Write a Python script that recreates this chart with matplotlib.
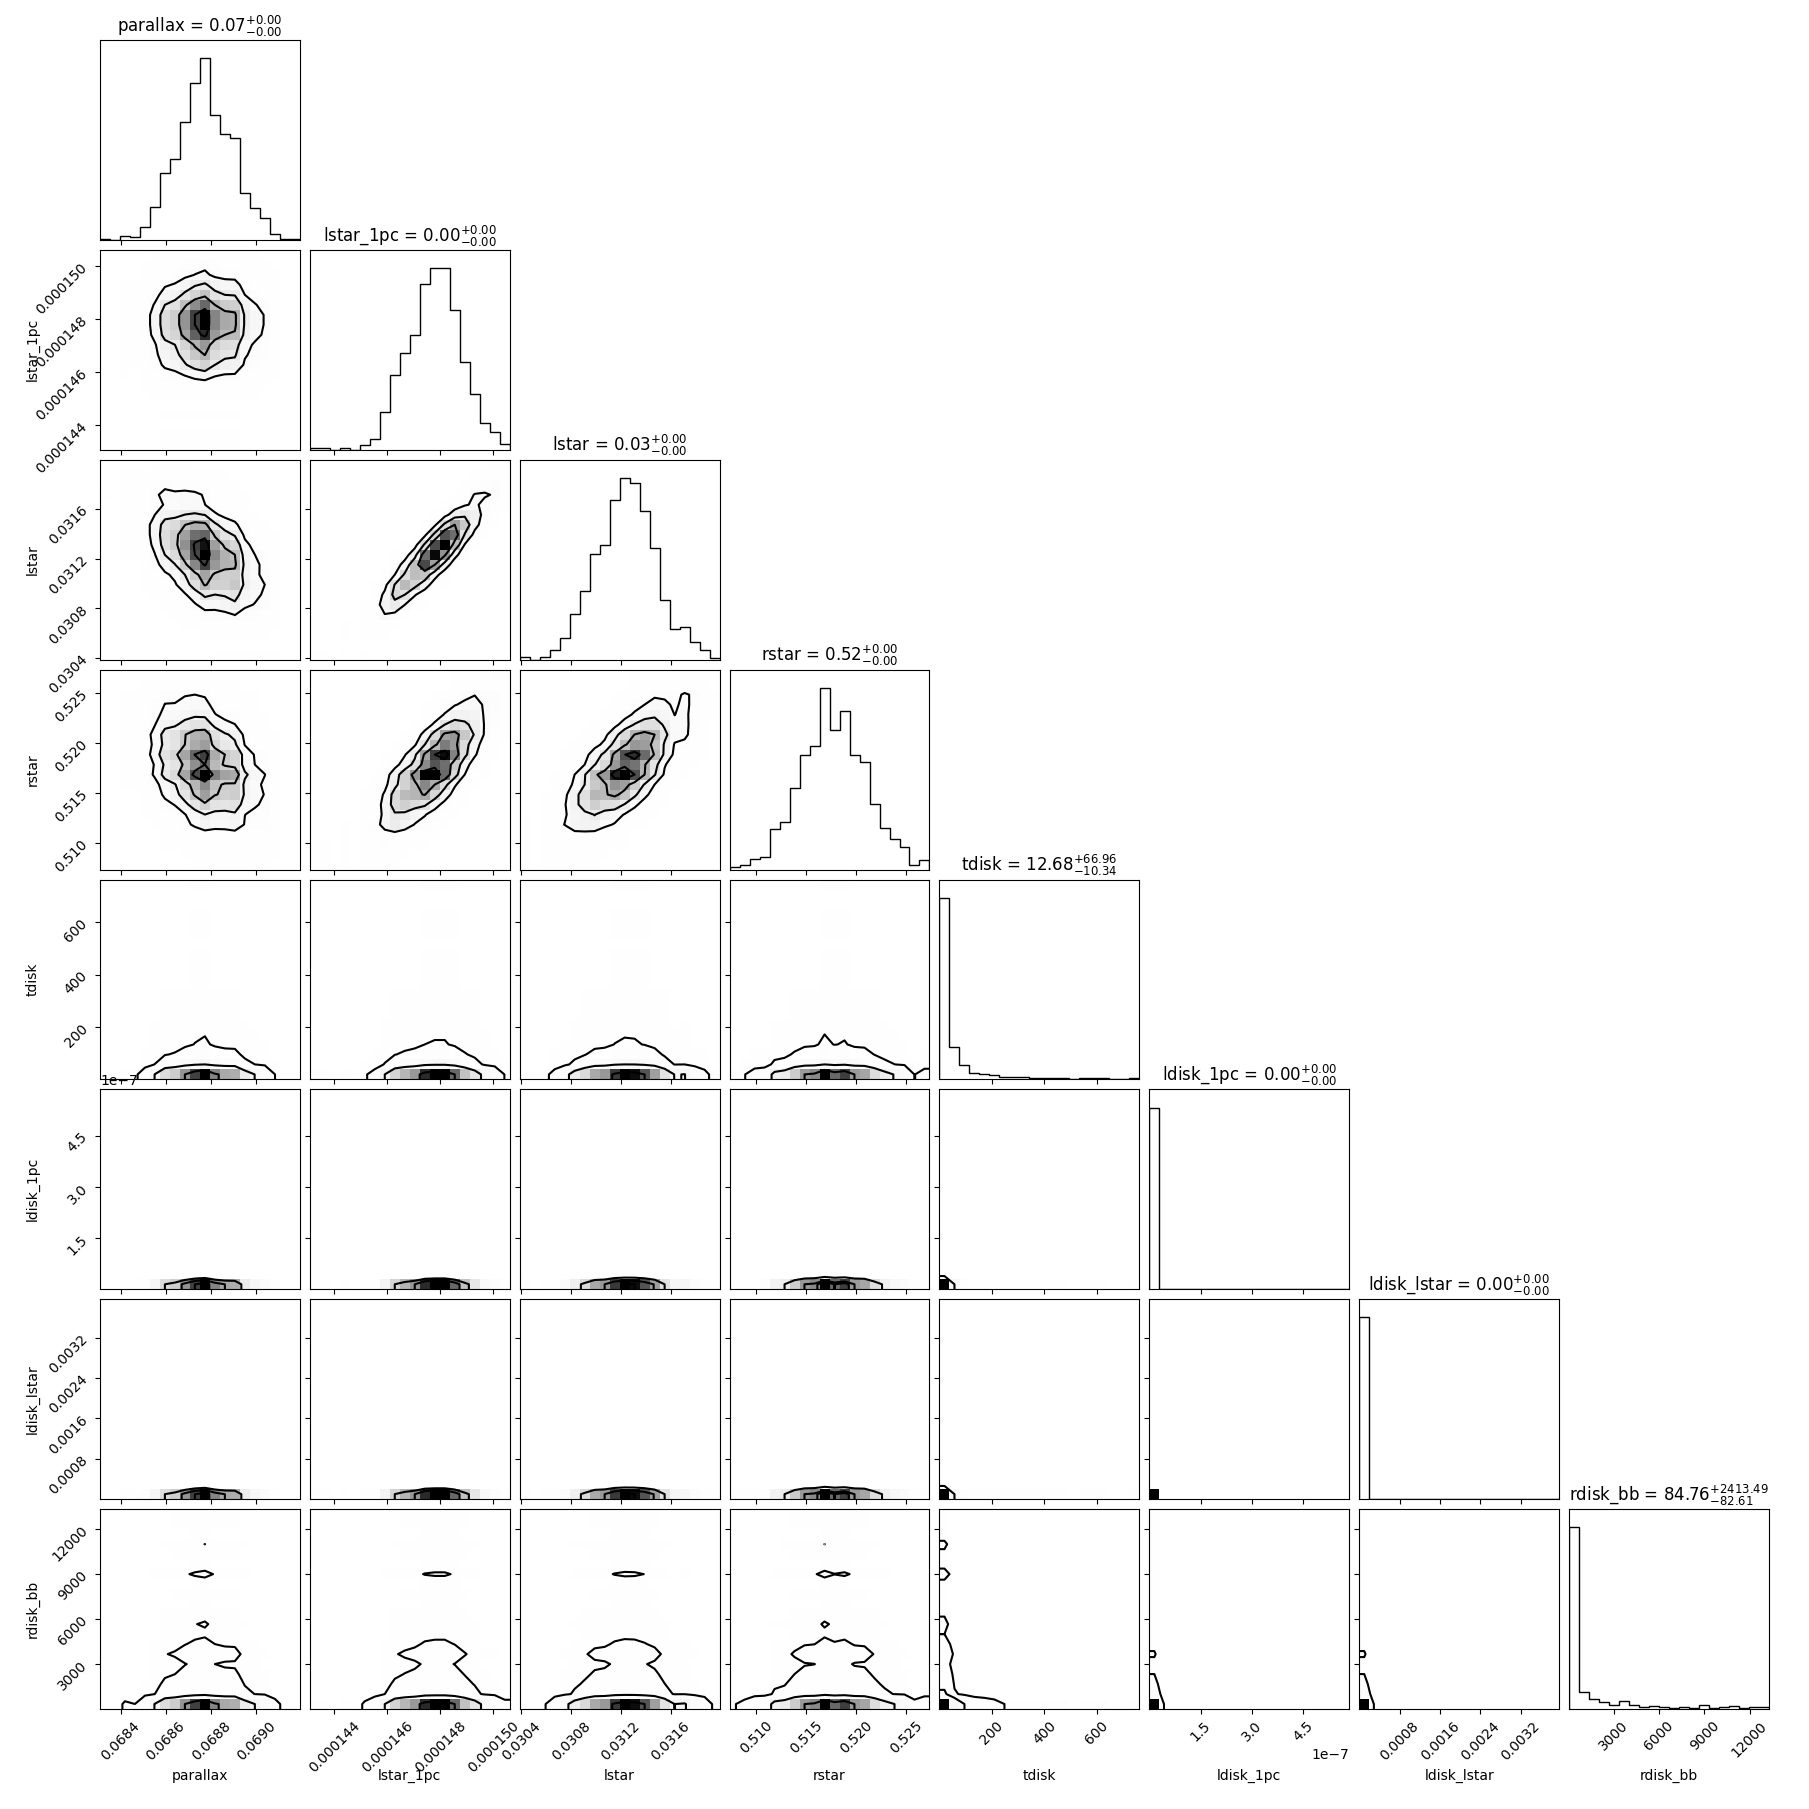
import numpy as np
import matplotlib
matplotlib.use('Agg')
import matplotlib.pyplot as plt
from matplotlib.colors import LinearSegmentedColormap
from matplotlib.ticker import MaxNLocator, NullLocator, ScalarFormatter

#-------------------------------------------------------------------------------
# Data
#-------------------------------------------------------------------------------
labels = ['parallax', 'lstar_1pc', 'lstar', 'rstar',
          'tdisk', 'ldisk_1pc', 'ldisk_lstar', 'rdisk_bb']

# title values: median and -/+ errors (as printed)
q50     = [0.07, 0.00, 0.03, 0.52, 12.68, 0.00, 0.00, 84.76]
q_minus = [0.00, 0.00, 0.00, 0.00, 10.34, 0.00, 0.00, 82.61]
q_plus  = [0.00, 0.00, 0.00, 0.00, 66.96, 0.00, 0.00, 2413.49]

# axis range (min, max) of every parameter
rng_parallax    = (0.068308, 0.069193)
rng_lstar_1pc   = (1.4307e-4, 1.5062e-4)
rng_lstar       = (0.030387, 0.031994)
rng_rstar       = (0.50734, 0.52734)
rng_tdisk       = (0.5, 762.0)
rng_ldisk_1pc   = (1e-10, 5.85e-7)
rng_ldisk_lstar = (1e-7, 0.00396)
rng_rdisk_bb    = (40.0, 13290.0)

# 20-bin marginal histograms (relative counts)
hist_parallax    = [2, 0, 12, 9, 38, 98, 200, 242, 353, 471, 545, 375, 317, 306, 142, 95, 65, 17, 2, 2]
hist_lstar_1pc   = [6, 6, 0, 6, 0, 14, 32, 113, 224, 291, 345, 497, 545, 545, 419, 264, 167, 81, 54, 17]
hist_lstar       = [8, 0, 8, 30, 66, 136, 207, 316, 345, 480, 545, 531, 447, 334, 180, 92, 98, 53, 28, 4]
hist_rstar       = [8, 15, 31, 37, 121, 144, 244, 343, 369, 545, 418, 474, 342, 321, 198, 126, 92, 69, 15, 30]
hist_tdisk       = [545, 96, 42, 20, 16, 12, 7, 7, 7, 3, 3, 3, 3, 0, 3, 3, 3, 1, 1, 3]
hist_ldisk_1pc   = [545, 0, 0, 0, 0, 0, 0, 0, 0, 1, 0, 0, 0, 0, 0, 0, 0, 0, 0, 1]
hist_ldisk_lstar = [545, 0, 0, 0, 0, 0, 0, 0, 0, 0, 0, 0, 0, 0, 0, 0, 1, 0, 0, 1]
hist_rdisk_bb    = [545, 50, 31, 20, 13, 23, 13, 7, 10, 6, 3, 5, 3, 12, 3, 5, 9, 3, 5, 5]

# pairwise correlations estimated from the 2-D panels (others ~0)
corr_pairs = {('parallax', 'lstar'):   -0.45,
              ('parallax', 'rstar'):   -0.30,
              ('lstar_1pc', 'lstar'):   0.90,
              ('lstar_1pc', 'rstar'):   0.75,
              ('lstar', 'rstar'):       0.70}

ranges = [rng_parallax, rng_lstar_1pc, rng_lstar, rng_rstar,
          rng_tdisk, rng_ldisk_1pc, rng_ldisk_lstar, rng_rdisk_bb]
hists  = [hist_parallax, hist_lstar_1pc, hist_lstar, hist_rstar,
          hist_tdisk, hist_ldisk_1pc, hist_ldisk_lstar, hist_rdisk_bb]

#-------------------------------------------------------------------------------
# Helpers
#-------------------------------------------------------------------------------
def bin_edges(r, n=20):
    return np.linspace(r[0], r[1], n + 1)

def joint_hist(cx, cy, rho):
    """2-D histogram built from two marginals and a correlation."""
    px = np.asarray(cx, float); py = np.asarray(cy, float)
    k = np.arange(len(px))
    def zscore(p):
        m = np.sum(k * p) / p.sum()
        s = np.sqrt(np.sum((k - m) ** 2 * p) / p.sum())
        return (k - m) / s
    H = np.outer(px, py)
    if rho != 0:
        zx, zy = np.meshgrid(zscore(px), zscore(py), indexing='ij')
        c = np.exp(-(rho**2 * (zx**2 + zy**2) - 2 * rho * zx * zy) / (2 * (1 - rho**2)))
        H = H * c
    return H / H.sum() * px.sum()

density_cmap = LinearSegmentedColormap.from_list('density_cmap', ['k', (1, 1, 1, 0)])
levels = 1.0 - np.exp(-0.5 * np.arange(0.5, 2.1, 0.5) ** 2)

def draw_hist2d(ax, H, X, Y):
    Hflat = np.sort(H.flatten())[::-1]
    sm = np.cumsum(Hflat); sm /= sm[-1]
    V = np.empty(len(levels))
    for i, v0 in enumerate(levels):
        sel = Hflat[sm <= v0]
        V[i] = sel[-1] if len(sel) else Hflat[0]
    V.sort()
    m = np.diff(V) == 0
    while np.any(m):
        V[np.where(m)[0][0]] *= 1.0 - 1e-4
        m = np.diff(V) == 0
    V.sort()

    X1, Y1 = 0.5 * (X[1:] + X[:-1]), 0.5 * (Y[1:] + Y[:-1])
    H2 = H.min() + np.zeros((H.shape[0] + 4, H.shape[1] + 4))
    H2[2:-2, 2:-2] = H
    H2[2:-2, 1] = H[:, 0]; H2[2:-2, -2] = H[:, -1]
    H2[1, 2:-2] = H[0];    H2[-2, 2:-2] = H[-1]
    H2[1, 1] = H[0, 0];    H2[1, -2] = H[0, -1]
    H2[-2, 1] = H[-1, 0];  H2[-2, -2] = H[-1, -1]
    X2 = np.concatenate([X1[0] + np.array([-2, -1]) * np.diff(X1[:2]), X1,
                         X1[-1] + np.array([1, 2]) * np.diff(X1[-2:])])
    Y2 = np.concatenate([Y1[0] + np.array([-2, -1]) * np.diff(Y1[:2]), Y1,
                         Y1[-1] + np.array([1, 2]) * np.diff(Y1[-2:])])

    ax.pcolormesh(X, Y, H.max() - H.T, cmap=density_cmap)
    ax.contour(X2, Y2, H2.T, V, colors='k')

#-------------------------------------------------------------------------------
# Figure layout (corner-style)
#-------------------------------------------------------------------------------
K       = len(labels)
factor  = 2.0
lbdim   = 0.5 * factor
trdim   = 0.2 * factor
whspace = 0.05
plotdim = factor * K + factor * (K - 1.0) * whspace
dim     = lbdim + plotdim + trdim

fig, axes = plt.subplots(K, K, figsize=(18.09, 18.09))
lb = lbdim / dim
tr = (lbdim + plotdim) / dim
fig.subplots_adjust(left=lb, bottom=lb, right=tr, top=tr, wspace=whspace, hspace=whspace)

for i in range(K):
    # ---- diagonal ----
    ax = axes[i, i]
    edges = bin_edges(ranges[i])
    cent  = 0.5 * (edges[1:] + edges[:-1])
    ax.hist(cent, bins=edges, weights=hists[i], histtype='step', color='k')
    ax.set_xlim(ranges[i])
    ax.set_ylim(0, 1.1 * max(hists[i]))
    ax.set_yticklabels([])
    ax.yaxis.set_major_locator(NullLocator())
    ax.xaxis.set_major_locator(MaxNLocator(5, prune='lower'))
    title = f'{labels[i]} = ${q50[i]:.2f}_{{-{q_minus[i]:.2f}}}^{{+{q_plus[i]:.2f}}}$'
    ax.set_title(title)
    if i < K - 1:
        ax.set_xticklabels([])
    else:
        ax.tick_params(axis='x', labelrotation=45)
        ax.xaxis.set_major_formatter(ScalarFormatter(useMathText=False))
        ax.set_xlabel(labels[i])
        ax.xaxis.set_label_coords(0.5, -0.3)

    for j in range(K):
        ax = axes[i, j]
        if j > i:
            ax.set_frame_on(False)
            ax.set_xticks([]); ax.set_yticks([])
            continue
        if j == i:
            continue

        X = bin_edges(ranges[j]); Y = bin_edges(ranges[i])
        rho = corr_pairs.get((labels[j], labels[i]), 0.0)
        H = joint_hist(hists[j], hists[i], rho)
        draw_hist2d(ax, H, X, Y)
        ax.set_xlim(ranges[j]); ax.set_ylim(ranges[i])

        ax.xaxis.set_major_locator(MaxNLocator(5, prune='lower'))
        ax.yaxis.set_major_locator(MaxNLocator(5, prune='lower'))

        if i < K - 1:
            ax.set_xticklabels([])
        else:
            ax.tick_params(axis='x', labelrotation=45)
            ax.xaxis.set_major_formatter(ScalarFormatter(useMathText=False))
            ax.set_xlabel(labels[j])
            ax.xaxis.set_label_coords(0.5, -0.3)

        if j > 0:
            ax.set_yticklabels([])
        else:
            ax.tick_params(axis='y', labelrotation=45)
            ax.yaxis.set_major_formatter(ScalarFormatter(useMathText=False))
            ax.set_ylabel(labels[i])
            ax.yaxis.set_label_coords(-0.3, 0.5)

fig.savefig('out.png', dpi=100)
plt.close(fig)
